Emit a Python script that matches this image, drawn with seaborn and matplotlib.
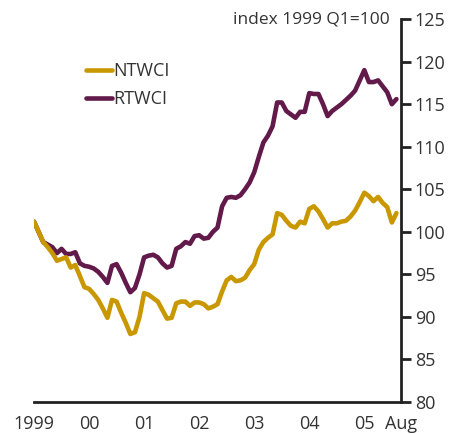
import numpy as np
import pandas as pd
import seaborn as sns
import matplotlib.pyplot as plt

# monthly, Jan 1999 - Aug 2005, index 1999 Q1=100
ntwci = [101.2, 100.0, 98.8, 98.2, 97.5, 96.6, 96.8, 97.0, 95.8, 96.1,
         94.8, 93.5, 93.3, 92.7, 92.0, 91.0, 89.9, 92.0, 91.8, 90.5,
         89.3, 88.0, 88.2, 90.0, 92.8, 92.6, 92.2, 91.8, 90.8, 89.8,
         89.9, 91.6, 91.8, 91.8, 91.3, 91.7, 91.7, 91.5, 91.0, 91.2,
         91.5, 93.0, 94.3, 94.7, 94.2, 94.3, 94.6, 95.5, 96.2, 97.9,
         98.8, 99.3, 99.7, 102.2, 102.0, 101.3, 100.7, 100.5, 101.2, 101.0,
         102.7, 103.0, 102.4, 101.5, 100.5, 101.0, 101.0, 101.2, 101.3, 101.8,
         102.5, 103.5, 104.6, 104.2, 103.6, 104.1, 103.4, 102.9, 101.1, 102.2]
rtwci = [101.2, 100.0, 98.8, 98.5, 98.2, 97.5, 98.0, 97.4, 97.4, 97.6,
         96.3, 96.0, 95.9, 95.7, 95.3, 94.7, 94.0, 96.0, 96.2, 95.2,
         94.0, 92.9, 93.4, 95.0, 97.0, 97.2, 97.3, 97.0, 96.3, 95.8,
         96.0, 98.0, 98.3, 98.8, 98.6, 99.5, 99.6, 99.2, 99.3, 100.0,
         100.5, 103.0, 104.0, 104.1, 104.0, 104.3, 105.0, 105.8, 107.0, 108.8,
         110.5, 111.3, 112.4, 115.2, 115.2, 114.2, 113.8, 113.4, 114.1, 114.1,
         116.3, 116.2, 116.2, 115.0, 113.6, 114.2, 114.6, 115.0, 115.5, 116.0,
         116.6, 117.8, 119.0, 117.6, 117.6, 117.8, 117.1, 116.4, 115.0, 115.6]

tick_pos = [1999, 2000, 2001, 2002, 2003, 2004, 2005, 2005 + 8 / 12]
tick_labels = ['1999', '00', '01', '02', '03', '04', '05', 'Aug']

t = 1999 + np.arange(len(ntwci)) / 12
df = pd.DataFrame({'t': np.concatenate([t, t]),
                   'value': ntwci + rtwci,
                   'series': ['NTWCI'] * len(t) + ['RTWCI'] * len(t)})

sns.set_style('white')
plt.rcParams['font.family'] = ['Open Sans', 'DejaVu Sans']
txt = '#333333'

fig = plt.figure(figsize=(4.62, 4.34), dpi=100)
ax = fig.add_axes([0.0736, 0.0737, 0.868 - 0.0736, 0.956 - 0.0737])

colors = {'NTWCI': '#C99700', 'RTWCI': '#621A4A'}
sns.lineplot(data=df, x='t', y='value', hue='series', palette=colors,
             linewidth=3.3, ax=ax)
for ln in ax.get_lines():
    if ln.get_color().lower() == '#c99700':
        ln.set_zorder(3)

ax.set_xlim(1999, 2005 + 8 / 12)
ax.set_ylim(80, 125)
ax.set_yticks(range(80, 126, 5))
ax.yaxis.tick_right()
ax.set_xticks(tick_pos)
ax.set_xticklabels(tick_labels)
ax.set_xlabel('')
ax.set_ylabel('')
for s in ['left', 'top']:
    ax.spines[s].set_visible(False)
for s in ['right', 'bottom']:
    ax.spines[s].set_color('#222222')
    ax.spines[s].set_linewidth(2)
ax.tick_params(axis='both', direction='out', length=7, width=2, color='#222222',
               labelsize=13, labelcolor=txt, pad=3)
ax.tick_params(axis='x', pad=2)

ax.annotate('index 1999 Q1=100', xy=(1, 1), xycoords='axes fraction',
            xytext=(-8, 0), textcoords='offset points', ha='right', va='center',
            fontsize=12.5, color=txt)

leg = ax.legend(loc='upper left', bbox_to_anchor=(0.122, 0.906), frameon=False,
                handlelength=1.43, handletextpad=0.1, labelspacing=0.55,
                fontsize=13, borderaxespad=0)
for text in leg.get_texts():
    text.set_color(txt)
for h in leg.get_lines():
    h.set_solid_capstyle('round')

fig.savefig('out.png', dpi=100)
